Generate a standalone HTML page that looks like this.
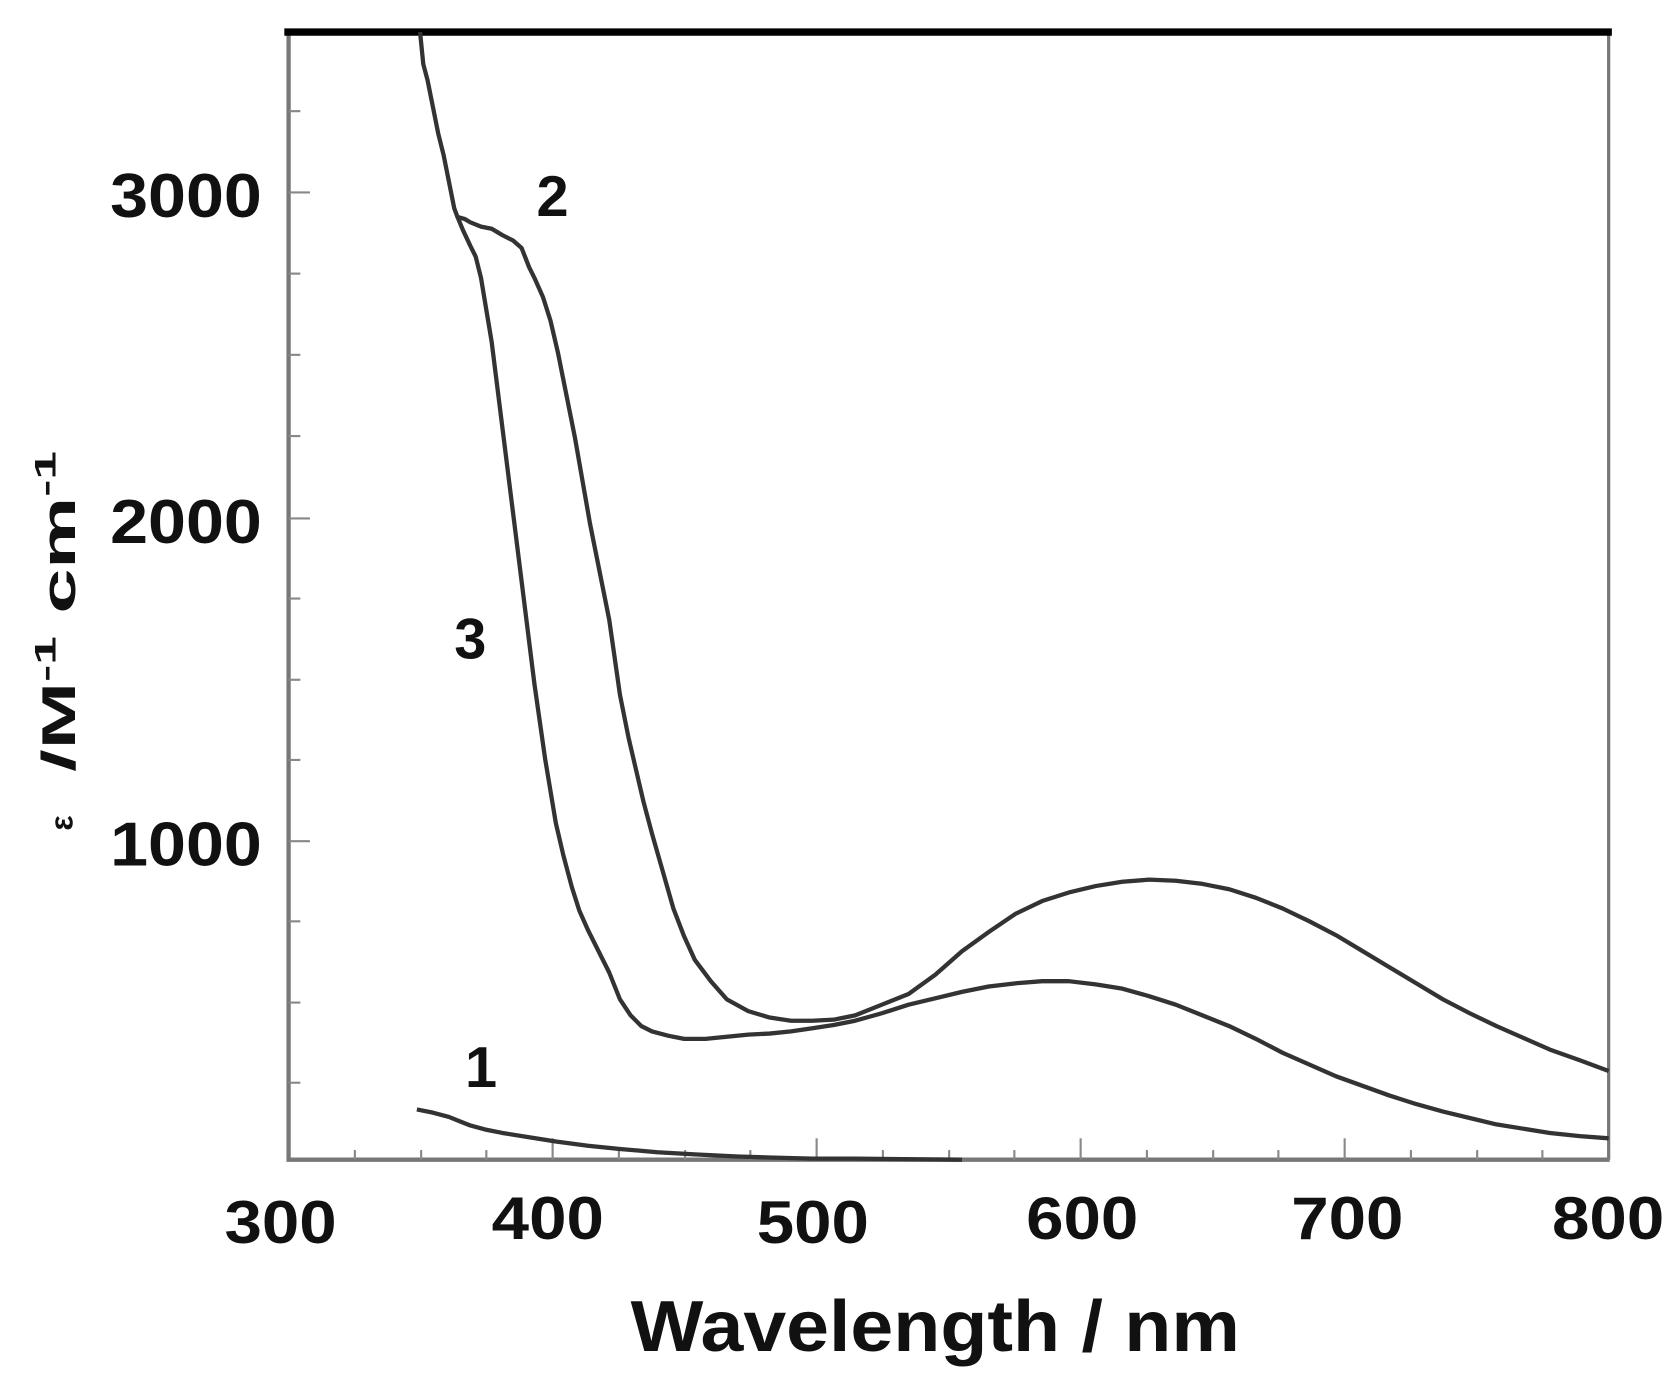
<!DOCTYPE html>
<html><head><style>
html,body{margin:0;padding:0;background:#fff;}
svg{display:block;}
text{font-family:"Liberation Sans",sans-serif;font-weight:bold;fill:#111;}
</style></head><body>
<svg width="1676" height="1382" viewBox="0 0 1568 1293" preserveAspectRatio="none" xmlns="http://www.w3.org/2000/svg">
<rect width="1568" height="1293" fill="#fff"/>
<line x1="270" y1="30" x2="270" y2="1085" stroke="#777" stroke-width="4"/>
<line x1="268" y1="1085" x2="1506" y2="1085" stroke="#777" stroke-width="4"/>
<line x1="1505" y1="30" x2="1505" y2="1085" stroke="#777" stroke-width="3"/>
<line x1="266" y1="30" x2="1508" y2="30" stroke="#000" stroke-width="7"/>
<g stroke="#888" stroke-width="2">
<line x1="270" y1="180" x2="290" y2="180"/><line x1="270" y1="485" x2="290" y2="485"/><line x1="270" y1="787" x2="290" y2="787"/>
<line x1="270" y1="104" x2="281" y2="104"/><line x1="270" y1="256" x2="281" y2="256"/><line x1="270" y1="332" x2="281" y2="332"/><line x1="270" y1="408" x2="281" y2="408"/>
<line x1="270" y1="560" x2="281" y2="560"/><line x1="270" y1="636" x2="281" y2="636"/><line x1="270" y1="711" x2="281" y2="711"/>
<line x1="270" y1="862" x2="281" y2="862"/><line x1="270" y1="938" x2="281" y2="938"/><line x1="270" y1="1013" x2="281" y2="1013"/>
</g>
<g stroke="#888" stroke-width="2">
<line x1="517" y1="1085" x2="517" y2="1065"/><line x1="764" y1="1085" x2="764" y2="1065"/><line x1="1011" y1="1085" x2="1011" y2="1065"/><line x1="1258" y1="1085" x2="1258" y2="1065"/>
<line x1="332" y1="1085" x2="332" y2="1076"/><line x1="394" y1="1085" x2="394" y2="1076"/><line x1="455" y1="1085" x2="455" y2="1076"/>
<line x1="579" y1="1085" x2="579" y2="1076"/><line x1="641" y1="1085" x2="641" y2="1076"/><line x1="702" y1="1085" x2="702" y2="1076"/>
<line x1="826" y1="1085" x2="826" y2="1076"/><line x1="888" y1="1085" x2="888" y2="1076"/><line x1="949" y1="1085" x2="949" y2="1076"/>
<line x1="1073" y1="1085" x2="1073" y2="1076"/><line x1="1135" y1="1085" x2="1135" y2="1076"/><line x1="1196" y1="1085" x2="1196" y2="1076"/>
<line x1="1320" y1="1085" x2="1320" y2="1076"/><line x1="1382" y1="1085" x2="1382" y2="1076"/><line x1="1443" y1="1085" x2="1443" y2="1076"/>
</g>
<g fill="none" stroke="#333" stroke-width="4" stroke-linejoin="round">
<polyline points="393,30 396,60 400,75 405,100 410,125 415,145 420,170 425,195 428,203 435,205 440,208 450,212 460,214 470,220 480,225 488,232 495,250 500,260 508,278 515,300 522,330 530,370 538,410 545,450 552,490 560,530 570,580 575,615 580,650 588,690 595,720 602,750 610,780 620,815 630,850 640,876 650,898 665,918 680,935 700,946 720,952 740,955 760,955 780,954 800,950 825,940 850,930 875,912 900,890 925,872 950,855 975,843 1000,835 1025,829 1050,825 1075,823 1100,824 1125,827 1150,832 1175,840 1200,850 1225,862 1250,875 1275,890 1300,905 1325,920 1350,935 1375,948 1400,960 1425,971 1450,982 1478,992 1505,1002"/>
<polyline points="428,203 433,215 440,230 445,240 450,260 455,290 460,320 465,360 470,400 475,440 480,480 485,520 490,560 495,600 500,640 505,675 510,710 515,740 520,770 527,800 535,830 542,852 550,870 560,890 570,910 580,935 590,950 600,960 610,965 625,969 640,972 660,972 680,970 700,968 720,967 740,965 760,962 780,959 800,955 825,948 850,940 875,934 900,928 925,923 950,920 975,918 1000,918 1025,921 1050,925 1075,932 1100,940 1125,950 1150,960 1175,972 1200,985 1225,996 1250,1007 1275,1016 1300,1025 1325,1033 1350,1040 1375,1046 1400,1052 1425,1056 1450,1060 1478,1063 1505,1065"/>
<polyline points="390,1038 405,1041 420,1045 430,1049 440,1053 455,1057 470,1060 495,1064 520,1068 550,1072 580,1075 615,1078 650,1080 690,1082 720,1083 760,1084 800,1084 900,1085"/>
</g>
<g font-size="58">
<text x="103" y="203" textLength="142" lengthAdjust="spacingAndGlyphs">3000</text>
<text x="103" y="508" textLength="142" lengthAdjust="spacingAndGlyphs">2000</text>
<text x="103" y="810" textLength="142" lengthAdjust="spacingAndGlyphs">1000</text>
</g>
<g font-size="56">
<text x="210" y="1163" textLength="105" lengthAdjust="spacingAndGlyphs">300</text>
<text x="460" y="1159" textLength="105" lengthAdjust="spacingAndGlyphs">400</text>
<text x="708" y="1163" textLength="105" lengthAdjust="spacingAndGlyphs">500</text>
<text x="960" y="1159" textLength="105" lengthAdjust="spacingAndGlyphs">600</text>
<text x="1208" y="1159" textLength="105" lengthAdjust="spacingAndGlyphs">700</text>
<text x="1452" y="1159" textLength="105" lengthAdjust="spacingAndGlyphs">800</text>
</g>
<g font-size="54" text-anchor="middle">
<text x="517" y="202">2</text>
<text x="440" y="616">3</text>
<text x="450" y="1017">1</text>
</g>
<text x="590" y="1264" font-size="68" textLength="570" lengthAdjust="spacingAndGlyphs">Wavelength / nm</text>
<g transform="translate(70,722) rotate(-90)">
<text x="0" y="0" font-size="44" textLength="300" lengthAdjust="spacingAndGlyphs">/M<tspan font-size="28" dy="-18">-1</tspan><tspan dy="18"> cm</tspan><tspan font-size="28" dy="-18">-1</tspan></text>
</g>
<text transform="translate(68,770) rotate(-90)" font-size="30" font-weight="normal" text-anchor="middle">ε</text>
</svg>
</body></html>
